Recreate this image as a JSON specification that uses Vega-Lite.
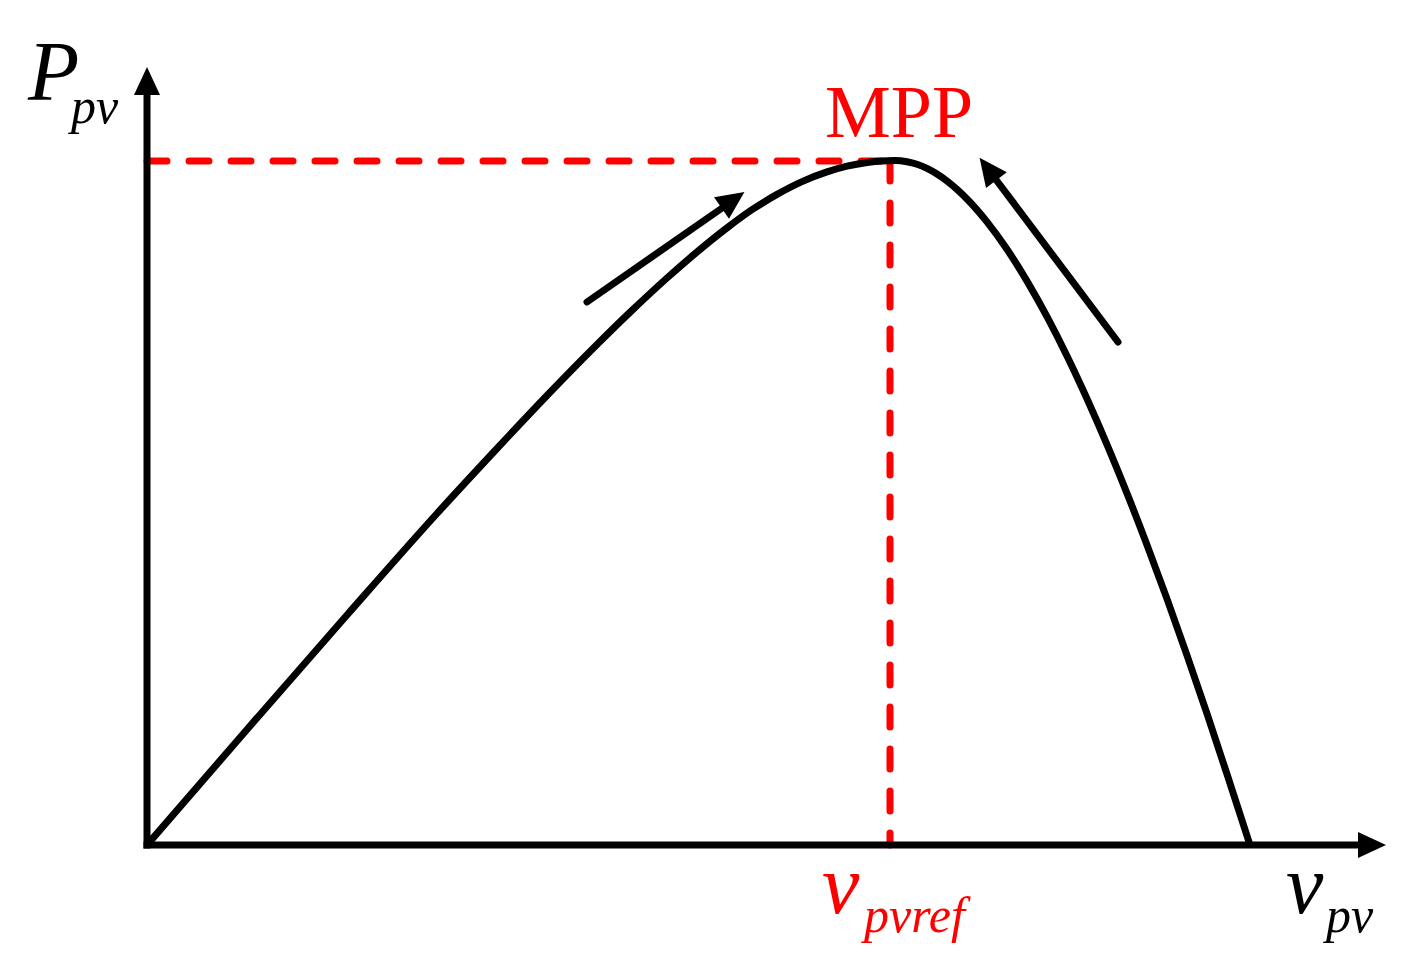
{
  "$schema": "https://vega.github.io/schema/vega-lite/v6.json",
  "width": 1426,
  "height": 979,
  "padding": 0,
  "autosize": {"type": "fit", "contains": "padding"},
  "background": "white",
  "config": {"view": {"stroke": null}},
  "datasets": {
    "curve": [
      {"v": 0, "P": 0}, {"v": 100, "P": 115.5}, {"v": 200, "P": 230}, {"v": 290, "P": 331.5},
      {"v": 350, "P": 396.5}, {"v": 400, "P": 449.5}, {"v": 450, "P": 500.5}, {"v": 485, "P": 534.6},
      {"v": 520, "P": 567}, {"v": 550, "P": 593}, {"v": 580, "P": 617.1}, {"v": 605, "P": 635.3},
      {"v": 630, "P": 650.6}, {"v": 655, "P": 663.4}, {"v": 680, "P": 673.1}, {"v": 700, "P": 678.8},
      {"v": 720, "P": 682.5}, {"v": 735, "P": 684.1}, {"v": 748, "P": 684.5}, {"v": 760, "P": 683.3},
      {"v": 770, "P": 680.7}, {"v": 780, "P": 676.6}, {"v": 790, "P": 671}, {"v": 800, "P": 664},
      {"v": 810, "P": 655.6}, {"v": 820, "P": 646}, {"v": 840, "P": 623.1}, {"v": 860, "P": 595.7},
      {"v": 880, "P": 563.9}, {"v": 900, "P": 528.3}, {"v": 920, "P": 489}, {"v": 940, "P": 446.2},
      {"v": 960, "P": 400.4}, {"v": 980, "P": 351.6}, {"v": 1000, "P": 300.1}, {"v": 1020, "P": 246.1},
      {"v": 1040, "P": 189.7}, {"v": 1060, "P": 131.3}, {"v": 1080, "P": 70.8}, {"v": 1103, "P": 0}
    ],
    "axes": [
      {"v": 0, "P": 0, "v2": 0, "P2": 755},
      {"v": 0, "P": 0, "v2": 1218, "P2": 0}
    ],
    "mpp": [
      {"v": 0, "P": 684, "v2": 743, "P2": 684},
      {"v": 743, "P": 684, "v2": 743, "P2": 0}
    ],
    "shafts": [
      {"v": 440, "P": 543, "v2": 578, "P2": 639},
      {"v": 971, "P": 503, "v2": 847, "P2": 668}
    ],
    "heads": [
      {"v": 0, "P": 764, "dir": 0},
      {"v": 1225, "P": 0, "dir": 90},
      {"v": 586, "P": 645, "dir": 55},
      {"v": 841, "P": 676, "dir": 323}
    ],
    "big": [
      {"label": "P", "v": -119, "P": 745, "kind": "axis"},
      {"label": "v", "v": 675, "P": -68, "kind": "ref"},
      {"label": "v", "v": 1139, "P": -68, "kind": "axis"}
    ],
    "sub": [
      {"label": "pv", "v": -76, "P": 722, "kind": "axis"},
      {"label": "pvref", "v": 717, "P": -87, "kind": "ref"},
      {"label": "pv", "v": 1179, "P": -87, "kind": "axis"}
    ],
    "title": [
      {"label": "MPP", "v": 752, "P": 708}
    ]
  },
  "encoding": {
    "x": {"field": "v", "type": "quantitative", "scale": {"domain": [-147, 1279], "nice": false, "zero": false}, "axis": null},
    "y": {"field": "P", "type": "quantitative", "scale": {"domain": [-134, 845], "nice": false, "zero": false}, "axis": null}
  },
  "layer": [
    {
      "data": {"name": "mpp"},
      "mark": {"type": "rule", "color": "#FF0000", "strokeWidth": 7, "strokeDash": [20, 22], "strokeCap": "round"},
      "encoding": {"x2": {"field": "v2"}, "y2": {"field": "P2"}}
    },
    {
      "data": {"name": "curve"},
      "mark": {"type": "line", "color": "black", "strokeWidth": 7, "interpolate": "monotone"},
      "encoding": {"order": {"field": "v", "type": "quantitative"}}
    },
    {
      "data": {"name": "axes"},
      "mark": {"type": "rule", "color": "black", "strokeWidth": 7, "strokeCap": "square"},
      "encoding": {"x2": {"field": "v2"}, "y2": {"field": "P2"}}
    },
    {
      "data": {"name": "shafts"},
      "mark": {"type": "rule", "color": "black", "strokeWidth": 7, "strokeCap": "round"},
      "encoding": {"x2": {"field": "v2"}, "y2": {"field": "P2"}}
    },
    {
      "data": {"name": "heads"},
      "mark": {"type": "point", "shape": "M0,-1L0.93,1L-0.93,1Z", "filled": true, "color": "black", "opacity": 1, "size": 784, "strokeWidth": 0},
      "encoding": {"angle": {"field": "dir", "type": "quantitative", "scale": null}}
    },
    {
      "data": {"name": "title"},
      "mark": {"type": "text", "font": "Liberation Serif", "fontSize": 74, "color": "#FF0000", "align": "center", "baseline": "alphabetic"},
      "encoding": {"text": {"field": "label"}}
    },
    {
      "data": {"name": "big"},
      "mark": {"type": "text", "font": "Liberation Serif", "fontStyle": "italic", "fontSize": 84, "align": "left", "baseline": "alphabetic"},
      "encoding": {
        "text": {"field": "label"},
        "color": {"field": "kind", "type": "nominal", "scale": {"domain": ["axis", "ref"], "range": ["black", "#FF0000"]}, "legend": null}
      }
    },
    {
      "data": {"name": "sub"},
      "mark": {"type": "text", "font": "Liberation Serif", "fontStyle": "italic", "fontSize": 50, "align": "left", "baseline": "alphabetic"},
      "encoding": {
        "text": {"field": "label"},
        "color": {"field": "kind", "type": "nominal", "scale": {"domain": ["axis", "ref"], "range": ["black", "#FF0000"]}, "legend": null}
      }
    }
  ]
}
